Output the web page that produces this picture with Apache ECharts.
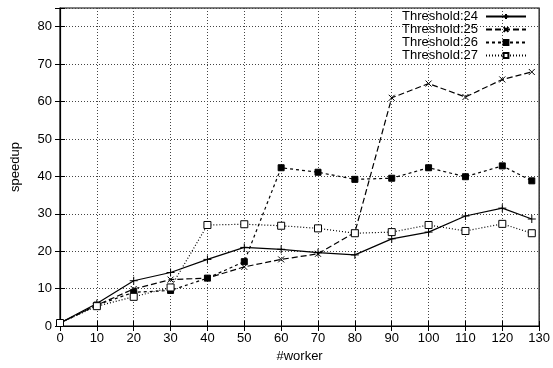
<!DOCTYPE html>
<html>
<head>
<meta charset="utf-8">
<script src="https://cdn.jsdelivr.net/npm/echarts@6/dist/echarts.min.js"></script>
<style>html,body{margin:0;padding:0;background:#fff}#c{width:553px;height:368px}</style>
</head>
<body>
<div id="c"></div>
<script>
var workers = [0, 10, 20, 30, 40, 50, 60, 70, 80, 90, 100, 110, 120, 128];
var seriesNames = ['Threshold:24', 'Threshold:25', 'Threshold:26', 'Threshold:27'];
var t24 = [0.8, 6.0, 12.1, 14.3, 17.8, 21.0, 20.5, 19.6, 19.0, 23.3, 25.1, 29.4, 31.5, 28.6];
var t25 = [0.8, 5.6, 9.9, 12.4, 12.8, 15.8, 17.8, 19.3, 25.0, 61.0, 64.8, 61.2, 65.9, 67.9];
var t26 = [0.8, 5.6, 9.0, 9.5, 12.8, 17.2, 42.3, 41.1, 39.2, 39.5, 42.3, 39.9, 42.8, 38.8];
var t27 = [0.8, 5.3, 7.8, 10.3, 27.0, 27.2, 26.8, 26.1, 24.8, 25.1, 27.0, 25.4, 27.3, 24.8];

function pairs(arr) { return workers.map(function (w, i) { return [w, arr[i]]; }); }

var plus = 'path://M0,5L10,5M5,0L5,10';
var cross = 'path://M0,0L10,10M10,0L0,10';

function mk(name, data, dash, symbol, size, fill) {
  return {
    name: name, type: 'line', data: pairs(data),
    symbol: symbol, symbolSize: size, showSymbol: true,
    lineStyle: { color: '#000', width: 1.2, type: dash },
    itemStyle: { color: fill, borderColor: '#000', borderWidth: 1 },
    color: '#000',
    animation: false
  };
}

var chart = echarts.init(document.getElementById('c'), null, { renderer: 'canvas' });
var axisFont = { fontFamily: 'Liberation Sans, Arial, sans-serif', fontSize: 13, color: '#000' };
chart.setOption({
  animation: false,
  backgroundColor: '#fff',
  grid: { left: 60, right: 12, top: 8, bottom: 40, show: true, borderColor: '#000', borderWidth: 1.2 },
  legend: {
    orient: 'vertical', right: 26, top: 10, padding: 0, itemGap: 0,
    align: 'right', itemWidth: 40, itemHeight: 6,
    textStyle: { fontFamily: 'Liberation Sans, Arial, sans-serif', fontSize: 13, lineHeight: 13, color: '#000', padding: [0, 3, 0, 0] },
    data: seriesNames
  },
  xAxis: [{
    type: 'value', min: 0, max: 130, interval: 10,
    name: '#worker', nameLocation: 'middle', nameGap: 24,
    nameTextStyle: axisFont,
    axisLine: { lineStyle: { color: '#000', width: 1.2 } },
    axisTick: { inside: true, length: 5, lineStyle: { color: '#000' } },
    axisLabel: Object.assign({ margin: 6 }, axisFont),
    splitLine: { show: true, lineStyle: { color: '#444', type: [1, 2], width: 1 } }
  }, {
    type: 'value', min: 0, max: 130, interval: 10, position: 'top',
    axisLine: { show: false }, axisLabel: { show: false },
    axisTick: { inside: true, length: 5, lineStyle: { color: '#000' } },
    splitLine: { show: false }
  }],
  yAxis: [{
    type: 'value', min: 0, max: 85, interval: 10,
    name: 'speedup', nameLocation: 'middle', nameGap: 38, nameRotate: 90,
    nameTextStyle: axisFont,
    axisLine: { show: true, lineStyle: { color: '#000', width: 1.2 } },
    axisTick: { inside: true, length: 5, lineStyle: { color: '#000' } },
    axisLabel: Object.assign({ margin: 8, formatter: function (v) { return v % 10 === 0 ? v : ''; } }, axisFont),
    splitLine: { show: true, lineStyle: { color: '#444', type: [1, 2], width: 1 } }
  }, {
    type: 'value', min: 0, max: 85, interval: 10, position: 'right',
    axisLine: { show: false }, axisLabel: { show: false },
    axisTick: { show: true, inside: true, length: 5, lineStyle: { color: '#000' } },
    splitLine: { show: false }
  }],
  series: [
    mk(seriesNames[0], t24, 'solid', plus, 8, '#000'),
    mk(seriesNames[1], t25, [6, 3], cross, 6, '#000'),
    mk(seriesNames[2], t26, [3, 3], 'rect', 6, '#000'),
    mk(seriesNames[3], t27, [1, 2], 'rect', 7, '#fff')
  ]
});
</script>
</body>
</html>
